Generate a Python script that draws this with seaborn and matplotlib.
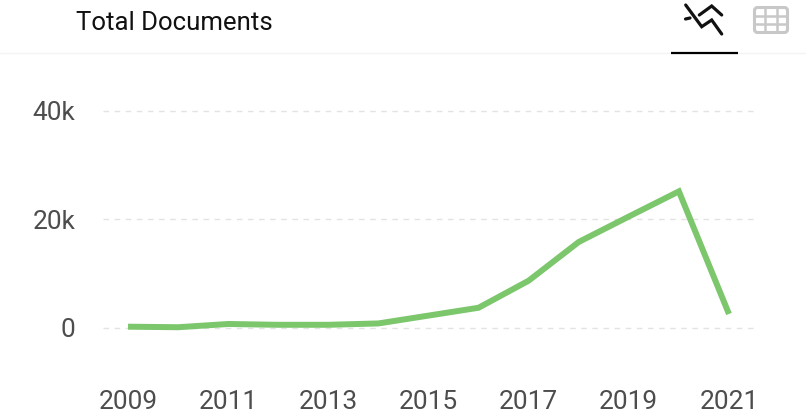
import matplotlib
matplotlib.use('Agg')
import matplotlib.pyplot as plt
import pandas as pd
import seaborn as sns
from matplotlib.patches import FancyBboxPatch

years = [2009, 2010, 2011, 2012, 2013, 2014, 2015, 2016, 2017, 2018, 2019, 2020, 2021]
documents = [150, 50, 650, 500, 500, 750, 2200, 3650, 8650, 15800, 20500, 25150, 2500]
y_ticks = [0, 20000, 40000]
y_labels = ['0', '20k', '40k']
x_ticks = [2009, 2011, 2013, 2015, 2017, 2019, 2021]

W, H = 809, 419

sns.set_theme(style='white')
plt.rcParams['font.family'] = ['Roboto', 'DejaVu Sans']

df = pd.DataFrame({'year': years, 'documents': documents})

fig = plt.figure(figsize=(W / 100, H / 100), dpi=100, facecolor='white')
ax = fig.add_axes([103 / W, 1 - 327.5 / H, (755 - 103) / W, (327.5 - 111) / H])

sns.lineplot(data=df, x='year', y='documents', color='#7cc66c', linewidth=4.3,
             ax=ax, clip_on=False, solid_joinstyle='miter', solid_capstyle='butt', zorder=3)

ax.set_xlim(2008.5, 2021.52)
ax.set_ylim(0, 40000)
ax.set_xticks(x_ticks)
ax.set_yticks(y_ticks)
ax.set_yticklabels(y_labels)
ax.set_xlabel('')
ax.set_ylabel('')
ax.tick_params(axis='x', length=0, labelsize=18.9, labelcolor='#4d4d4d', pad=45)
ax.tick_params(axis='y', length=0, labelsize=18.9, labelcolor='#4d4d4d', pad=20)
for s in ax.spines.values():
    s.set_visible(False)
ax.patch.set_alpha(0)
for t in y_ticks:
    ax.axhline(t, color='#e3e3e3', linewidth=1, dashes=(4, 4), zorder=1, clip_on=False)

# header: title, tabs and icons, in pixel coordinates
hdr = fig.add_axes([0, 0, 1, 1], zorder=5)
hdr.set_xlim(0, W)
hdr.set_ylim(H, 0)
hdr.axis('off')
hdr.text(76, 23.5, 'Total Documents', fontsize=18.5, color='#111111', va='center', ha='left')
hdr.plot([0, 805], [53.5, 53.5], color='#f4f4f4', linewidth=1)
hdr.plot([671, 738], [53.5, 53.5], color='#000000', linewidth=1.6, solid_capstyle='butt')

hdr.plot([685.7, 701.7, 711.7, 721.7], [5, 26.7, 20, 34], color='#111111', linewidth=2.3,
         solid_joinstyle='miter')
hdr.plot([699.3, 711.7, 721.7], [15, 6, 15], color='#111111', linewidth=2.3, solid_joinstyle='miter')
hdr.plot([685.5, 690], [19, 18], color='#111111', linewidth=2.3)

hdr.add_patch(FancyBboxPatch((754.5, 7.5), 33, 25, boxstyle='round,pad=0,rounding_size=3',
                             facecolor='white', edgecolor='#c8c8c8', linewidth=2.2))
for gx in [765, 776.7]:
    hdr.plot([gx, gx], [7.5, 32.5], color='#c8c8c8', linewidth=1.8)
for gy in [15.7, 24.3]:
    hdr.plot([754.5, 787.5], [gy, gy], color='#c8c8c8', linewidth=1.8)

fig.savefig('out.png', dpi=100)
